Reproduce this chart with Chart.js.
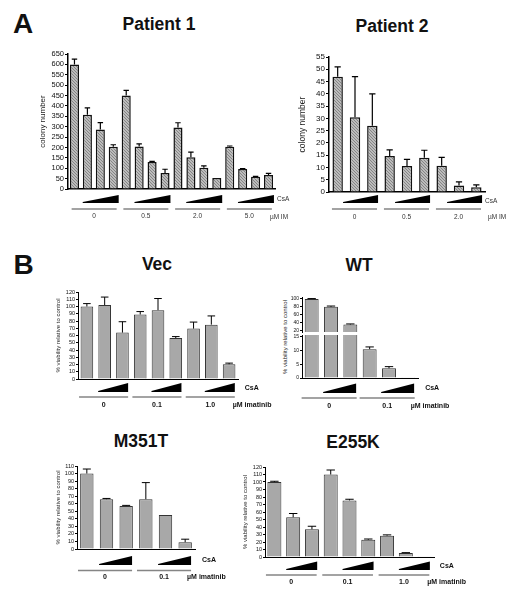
<!DOCTYPE html>
<html><head><meta charset="utf-8">
<script src="https://cdn.jsdelivr.net/npm/chart.js@4/dist/chart.umd.min.js"></script>
<style>
html,body{margin:0;padding:0;background:#fff;}
body{width:508px;height:600px;position:relative;overflow:hidden;font-family:"Liberation Sans",Arial,Helvetica,sans-serif;}
canvas{position:absolute;}
.t{position:absolute;transform:translate(-50%,-50%);font-weight:bold;white-space:nowrap;color:#111;line-height:1;}
.yt{position:absolute;transform:translate(-50%,-50%) rotate(-90deg);white-space:nowrap;color:#222;line-height:1;}
</style></head><body>
<div class="t" style="left:23px;top:24px;font-size:28px">A</div>
<div class="t" style="left:159px;top:25px;font-size:17.5px">Patient 1</div>
<div class="t" style="left:392px;top:27px;font-size:17.5px">Patient 2</div>
<div class="t" style="left:23.5px;top:265px;font-size:28px">B</div>
<div class="t" style="left:157px;top:265px;font-size:17.5px">Vec</div>
<div class="t" style="left:359px;top:265.5px;font-size:17.5px">WT</div>
<div class="t" style="left:141px;top:442px;font-size:17.5px">M351T</div>
<div class="t" style="left:353px;top:442.5px;font-size:17.5px">E255K</div>
<div class="yt" style="left:285px;top:337px;font-size:6px">% viability relative to control</div>
<script>
// ---------- DATA ----------
const p1Imatinib = ['0', '0.5', '2.0', '5.0'];
const p1CsA = ['none', 'low', 'mid', 'high'];
const p1Values = [600, 358, 287, 203, 450, 205, 130, 77, 296, 153, 102, 53, 204, 96, 59, 67];
const p1Errors = [25, 33, 33, 10, 25, 12, 3, 18, 23, 25, 9, 0, 3, 2, 2, 8];
const p1Ticks = [0, 50, 100, 150, 200, 250, 300, 350, 400, 450, 500, 550, 600, 650];

const p2Imatinib = ['0', '0.5', '2.0'];
const p2CsA = ['none', 'low', 'high'];
const p2Values = [47, 30.5, 27, 14.7, 10.6, 14, 10.7, 2.6, 1.9];
const p2Errors = [4, 16.5, 13, 2.5, 2.7, 3, 3.4, 1.5, 1];
const p2Ticks = [0, 5, 10, 15, 20, 25, 30, 35, 40, 45, 50, 55];

const vecImatinib = ['0', '0.1', '1.0'];
const vecCsA = ['none', 'low', 'high'];
const vecValues = [100, 102, 64, 89, 95, 56.5, 69.5, 75, 20.4];
const vecErrors = [4, 11, 15, 4, 16, 2, 9, 12, 1.5];
const vecTicks = [0, 10, 20, 30, 40, 50, 60, 70, 80, 90, 100, 110, 120];

const wtImatinib = ['0', '0.1'];
const wtCsA = ['none', 'low', 'high'];
const wtValues = [100, 80, 35, 10.4, 3.5, 0.3];
const wtErrors = [1, 2, 1.5, 0.8, 0.6, 0];
const wtTicksHigh = [20, 40, 60, 80, 100];
const wtTicksLow = [0, 5, 10, 15];

const m351Imatinib = ['0', '0.1'];
const m351CsA = ['none', 'low', 'high'];
const m351Values = [100, 66, 57, 66, 45, 9];
const m351Errors = [6, 1, 0.8, 22, 0, 4];
const m351Ticks = [0, 10, 20, 30, 40, 50, 60, 70, 80, 90, 100, 110];

const e255Imatinib = ['0', '0.1', '1.0'];
const e255CsA = ['none', 'low', 'high'];
const e255Values = [100, 53, 37, 110, 75.5, 23, 28.5, 5.3, 0.2];
const e255Errors = [1, 5, 4, 6, 1.5, 1, 1, 0.5, 0];
const e255Ticks = [0, 10, 20, 30, 40, 50, 60, 70, 80, 90, 100, 110, 120];

// ---------- helpers ----------
const FF = '"Liberation Sans", Arial, Helvetica, sans-serif';
function cats(im, csa) { return im.flatMap(i => csa.map(c => i + ' µM IM / CsA ' + c)); }
function groups(im, csa) { return im.map((_, k) => [k * csa.length, k * csa.length + csa.length - 1]); }

function hatch() {
  const c = document.createElement('canvas'); c.width = 3; c.height = 3;
  const g = c.getContext('2d');
  g.fillStyle = '#bcbcbc'; g.fillRect(0, 0, 3, 3);
  g.fillStyle = '#858585';
  g.fillRect(0, 0, 1, 1); g.fillRect(1, 1, 1, 1); g.fillRect(2, 2, 1, 1);
  return g.createPattern(c, 'repeat');
}

function errPlugin(o) {
  return { id: 'err', afterDatasetsDraw(chart) {
    const errs = o.errors; if (!errs) return;
    const meta = chart.getDatasetMeta(0), y = chart.scales.y, a = chart.chartArea, ctx = chart.ctx;
    ctx.save(); ctx.beginPath(); ctx.rect(a.left, a.top - 4, a.right - a.left, a.bottom - a.top + 4); ctx.clip();
    ctx.strokeStyle = '#000'; ctx.lineWidth = o.errW || 1;
    meta.data.forEach((bar, i) => {
      const e = errs[i]; if (!e) return;
      const v = o.values[i];
      const y0 = y.getPixelForValue(v), y1 = y.getPixelForValue(v + e);
      const cw = bar.width * 0.3;
      ctx.beginPath(); ctx.moveTo(bar.x, y0); ctx.lineTo(bar.x, y1);
      ctx.moveTo(bar.x - cw, y1); ctx.lineTo(bar.x + cw, y1); ctx.stroke();
    });
    ctx.restore();
  }};
}

function annPlugin(o) {
  return { id: 'ann', afterDraw(chart) {
    const A = o.ann; if (!A) return;
    const ctx = chart.ctx, x = chart.scales.x, b = chart.chartArea.bottom;
    const p = x.getPixelForValue(1) - x.getPixelForValue(0);
    ctx.save();
    A.groups.forEach((g, k) => {
      const c0 = x.getPixelForValue(g[0]), c1 = x.getPixelForValue(g[1]);
      const wr = c1 + A.wr * p, wl = wr - A.ww;
      ctx.fillStyle = '#000';
      ctx.beginPath(); ctx.moveTo(wl, b + A.wb); ctx.lineTo(wr, b + A.wb); ctx.lineTo(wr, b + A.wt); ctx.lineTo(wl, b + A.wb - 1); ctx.closePath(); ctx.fill();
      const ll = c0 - A.ll * p, lr = c1 + A.lr * p;
      ctx.strokeStyle = '#858585'; ctx.lineWidth = 1.5;
      ctx.beginPath(); ctx.moveTo(ll, b + A.ly); ctx.lineTo(lr, b + A.ly); ctx.stroke();
      ctx.fillStyle = A.color; ctx.font = A.font; ctx.textAlign = 'center'; ctx.textBaseline = 'middle';
      ctx.fillText(A.labels[k], (ll + lr) / 2, b + A.ty);
      if (k === A.groups.length - 1) {
        ctx.textAlign = 'left';
        ctx.fillText(A.csa, wr + A.cx, b + A.cy);
        ctx.fillText(A.unit, lr + A.ux, b + A.uy);
      }
    });
    ctx.restore();
  }};
}

function panel(o) {
  const cv = document.createElement('canvas');
  const left = o.l - o.yw, top = o.t - o.pt, pb = o.pb || 0;
  const w = Math.round(o.r - left + o.pr), h = Math.round(o.b - top + o.ah + pb);
  cv.width = w; cv.height = h;
  cv.style.left = left + 'px'; cv.style.top = top + 'px';
  cv.style.width = w + 'px'; cv.style.height = h + 'px';
  document.body.appendChild(cv);
  return new Chart(cv, {
    type: 'bar',
    data: { labels: o.labels, datasets: [{ data: o.values, backgroundColor: o.fill, borderColor: o.stroke,
      borderWidth: o.bw, barPercentage: o.bp, categoryPercentage: 1, clip: 0 }] },
    options: {
      responsive: false, animation: false, devicePixelRatio: 1,
      layout: { padding: { left: 0, top: o.pt, right: o.pr, bottom: pb } },
      plugins: { legend: { display: false }, tooltip: { enabled: false } },
      scales: {
        x: { display: o.xDisplay !== false, grid: { display: false }, ticks: { display: false },
             border: { display: true, color: '#000', width: o.aw },
             afterFit: s => { s.height = o.ah; } },
        y: { min: o.min || 0, max: o.max,
             afterFit: s => { s.width = o.yw; },
             afterBuildTicks: s => { s.ticks = o.ticks.map(v => ({ value: v })); },
             grid: { drawOnChartArea: false, drawTicks: true, tickLength: o.tl, color: '#000', tickColor: '#000', lineWidth: 1 },
             border: { display: true, color: '#000', width: o.aw },
             ticks: { autoSkip: false, padding: 1, color: '#111', font: { size: o.fs, family: FF } },
             title: o.ytitle ? { display: true, text: o.ytitle, color: '#222', font: { size: o.tfs, family: FF }, padding: { top: 0, bottom: 0 } } : { display: false } }
      }
    },
    plugins: [errPlugin(o), annPlugin(o)]
  });
}

const pat = hatch();
const annA = { font: '6.5px ' + FF, color: '#333', csa: 'CsA', unit: 'µM IM' };
const annB = { font: 'bold 7px ' + FF, color: '#111', csa: 'CsA', unit: 'µM imatinib' };

// Patient 1
panel({ l: 68, r: 275, t: 54, b: 189, yw: 30, pt: 8, pr: 22, ah: 36, fs: 7.5, tfs: 8, ytitle: 'colony number',
  labels: cats(p1Imatinib, p1CsA), values: p1Values, errors: p1Errors, ticks: p1Ticks, max: 650,
  tl: 3, aw: 1.5, bp: 0.7, fill: pat, stroke: '#111', bw: 1.5, errW: 1.2,
  ann: Object.assign({}, annA, { groups: groups(p1Imatinib, p1CsA), labels: p1Imatinib,
    wt: 6, wb: 14, ww: 36, wr: 0.42, ll: 0.22, lr: 0.26, ly: 20, ty: 27, cy: 10, cx: 3, uy: 28, ux: -2 }) });

// Patient 2
panel({ l: 329, r: 485, t: 57, b: 192, yw: 31, pt: 8, pr: 22, ah: 36, fs: 8, tfs: 8.5, ytitle: 'colony number',
  labels: cats(p2Imatinib, p2CsA), values: p2Values, errors: p2Errors, ticks: p2Ticks, max: 55,
  tl: 3, aw: 1.5, bp: 0.6, fill: pat, stroke: '#111', bw: 1.5, errW: 1.2,
  ann: Object.assign({}, annA, { groups: groups(p2Imatinib, p2CsA), labels: p2Imatinib,
    wt: 3, wb: 11, ww: 35, wr: 0.33, ll: 0.33, lr: 0.27, ly: 17, ty: 25, cy: 9, cx: 3, uy: 25, ux: 7 }) });

// Vec
panel({ l: 78, r: 238, t: 292, b: 379, yw: 23, pt: 6, pr: 40, ah: 32, fs: 5.5, tfs: 6, ytitle: '% viability relative to control',
  labels: cats(vecImatinib, vecCsA), values: vecValues, errors: vecErrors, ticks: vecTicks, max: 120,
  tl: 2, aw: 1, bp: 0.71, fill: '#a8a8a8', stroke: '#333', bw: 1, errW: 1,
  ann: Object.assign({}, annB, { groups: groups(vecImatinib, vecCsA), labels: vecImatinib,
    wt: 4, wb: 13, ww: 30, wr: 0.32, ll: 0.44, lr: 0.32, ly: 18, ty: 26, cy: 9, cx: 10, uy: 26, ux: -2 }) });

// WT (broken axis: upper and lower segments)
panel({ l: 302, r: 418, t: 296.5, b: 331.5, yw: 20, pt: 5, pb: 4, pr: 2, ah: 0, xDisplay: false, fs: 5,
  labels: cats(wtImatinib, wtCsA), values: wtValues, errors: wtErrors, ticks: wtTicksHigh, min: 16, max: 105,
  tl: 2, aw: 1, bp: 0.72, fill: '#a8a8a8', stroke: '#333', bw: 1, errW: 1 });
panel({ l: 302, r: 418, t: 335, b: 378, yw: 20, pt: 5, pr: 70, ah: 32, fs: 5,
  labels: cats(wtImatinib, wtCsA), values: wtValues, errors: wtErrors, ticks: wtTicksLow, min: 0, max: 15.5,
  tl: 2, aw: 1, bp: 0.72, fill: '#a8a8a8', stroke: '#333', bw: 1, errW: 1,
  ann: Object.assign({}, annB, { groups: groups(wtImatinib, wtCsA), labels: wtImatinib,
    wt: 5.5, wb: 15, ww: 33, wr: 0.3, ll: 0.52, lr: 0.33, ly: 20, ty: 28, cy: 10.5, cx: 11, uy: 28, ux: -4 }) });

// M351T
panel({ l: 77, r: 195, t: 466, b: 549, yw: 22, pt: 6, pr: 60, ah: 34, fs: 5.5, tfs: 6, ytitle: '% viability relative to control',
  labels: cats(m351Imatinib, m351CsA), values: m351Values, errors: m351Errors, ticks: m351Ticks, max: 110,
  tl: 2, aw: 1, bp: 0.68, fill: '#a8a8a8', stroke: '#333', bw: 1, errW: 1,
  ann: Object.assign({}, annB, { groups: groups(m351Imatinib, m351CsA), labels: m351Imatinib,
    wt: 7, wb: 16, ww: 33, wr: 0.3, ll: 0.45, lr: 0.3, ly: 21.5, ty: 28.5, cy: 11, cx: 11, uy: 28.5, ux: -4 }) });

// E255K
panel({ l: 265, r: 434, t: 467, b: 557, yw: 23, pt: 6, pr: 66, ah: 32, fs: 5.5, tfs: 6, ytitle: '% viability relative to control',
  labels: cats(e255Imatinib, e255CsA), values: e255Values, errors: e255Errors, ticks: e255Ticks, max: 120,
  tl: 2, aw: 1, bp: 0.745, fill: '#a8a8a8', stroke: '#333', bw: 1, errW: 1,
  ann: Object.assign({}, annB, { groups: groups(e255Imatinib, e255CsA), labels: e255Imatinib,
    wt: 4.5, wb: 13, ww: 31, wr: 0.28, ll: 0.45, lr: 0.25, ly: 18, ty: 25.5, cy: 9.5, cx: 10, uy: 25.5, ux: -2 }) });
</script>
</body></html>
